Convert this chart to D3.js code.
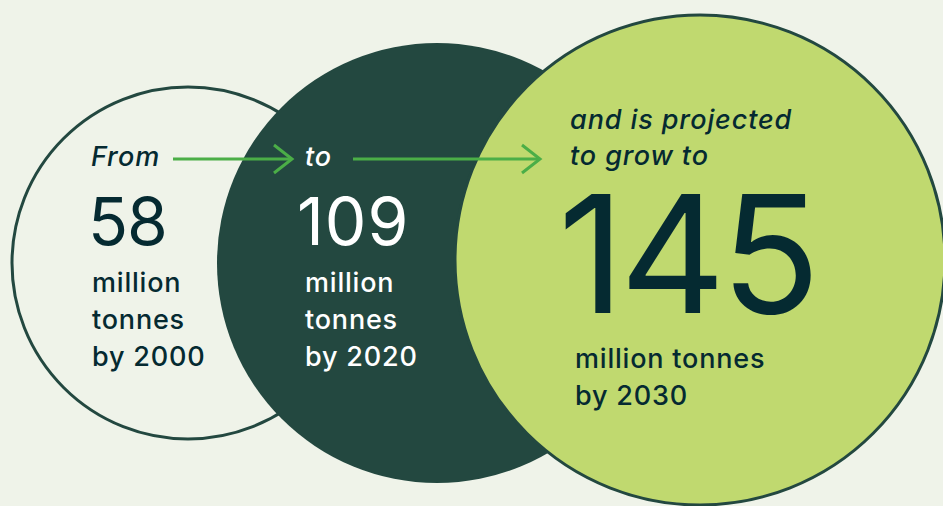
<!DOCTYPE html>
<html lang='en'>
<head>
  <meta charset='utf-8'>
  <script src="https://cdn.jsdelivr.net/npm/d3@7"></script>
  <style>
    body { margin: 0; background: #eff3e9; }
    svg { display: block; font-family: Inter, "Noto Sans", sans-serif; }
  </style>
</head>
<body>
<div id="chart"></div>
<script>
  // data
  const years = [2000, 2020, 2030];
  const values = [58, 109, 145];
  const leadIns = [["From"], ["to"], ["and is projected", "to grow to"]];
  const unitLines = [["million", "tonnes", "by 2000"], ["million", "tonnes", "by 2020"], ["million tonnes", "by 2030"]];

  const width = 943, height = 506;

  const svg = d3.select("#chart")
    .append("svg")
    .attr("width", width)
    .attr("height", height);

  svg.append("rect").attr("width", width).attr("height", height).attr("fill", "#eff3e9");

  // circle sizes and positions come from scales
  const r = d3.scaleLinear().domain([58, 109, 145]).range([176, 220, 245]);
  const x = d3.scaleLinear().domain(years).range([188, 437, 700]);
  const cy = d3.scaleLinear().domain([2000, 2020, 2030]).range([263, 263, 260]);

  const fills = ["#eff3e9", "#234840", "#c0d96f"];
  const strokes = ["#234840", "none", "#234840"];
  const ink = ["#052a31", "#ffffff", "#052a31"];

  const data = years.map((y, i) => ({ year: y, value: values[i], lead: leadIns[i], unit: unitLines[i], i: i }));

  svg.selectAll("circle.bub")
    .data(data)
    .join("circle")
      .attr("class", "bub")
      .attr("cx", d => x(d.year))
      .attr("cy", d => cy(d.year))
      .attr("r", d => r(d.value))
      .attr("fill", d => fills[d.i])
      .attr("stroke", d => strokes[d.i])
      .attr("stroke-width", 3);

  // arrows
  const arrowY = 159;
  const arrows = [[173, 292], [353, 540]];
  const green = "#4bae47";
  arrows.forEach(a => {
    svg.append("line")
      .attr("x1", a[0]).attr("x2", a[1] - 1)
      .attr("y1", arrowY).attr("y2", arrowY)
      .attr("stroke", green).attr("stroke-width", 3);
    svg.append("path")
      .attr("d", `M${a[1] - 18},${arrowY - 14} L${a[1]},${arrowY} L${a[1] - 18},${arrowY + 14}`)
      .attr("fill", "none")
      .attr("stroke", green).attr("stroke-width", 3);
  });

  // text layout per circle
  const layout = [
    { lx: 91, leadY: 166, nx: 88, ny: 245, ns: 66, ls: -1, ux: 92, uy: 292 },
    { lx: 305, leadY: 166, nx: 297, ny: 245, ns: 66, ls: 1, ux: 305, uy: 292 },
    { lx: 570, leadY: 129, nx: 558, ny: 313, ns: 164, ls: -5, ux: 575, uy: 368 }
  ];

  data.forEach(d => {
    const L = layout[d.i];
    const g = svg.append("g").attr("fill", ink[d.i]);

    g.selectAll("text.lead")
      .data(d.lead)
      .join("text")
        .attr("class", "lead")
        .attr("x", L.lx)
        .attr("y", (t, j) => L.leadY + j * 36)
        .attr("font-size", 27)
        .attr("font-weight", 500)
        .attr("letter-spacing", 0.9)
        .attr("font-style", "italic")
        .text(t => t);

    g.append("text")
      .attr("x", L.nx)
      .attr("y", L.ny)
      .attr("font-size", L.ns)
      .attr("letter-spacing", L.ls)
      .text(d.value);

    g.selectAll("text.unit")
      .data(d.unit)
      .join("text")
        .attr("class", "unit")
        .attr("x", L.ux)
        .attr("y", (t, j) => L.uy + j * 37)
        .attr("font-size", 27)
        .attr("font-weight", 500)
        .attr("letter-spacing", 0.8)
        .text(t => t);
  });
</script>
</body>
</html>
